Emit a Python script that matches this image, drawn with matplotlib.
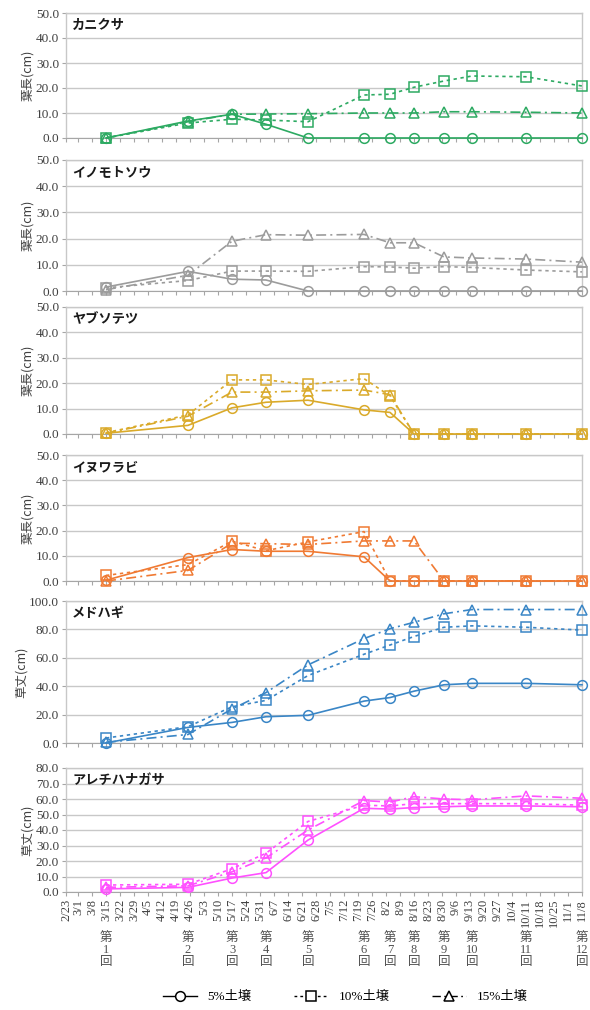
import matplotlib
matplotlib.use('Agg')
import matplotlib.pyplot as plt
import matplotlib.transforms as mtransforms
from matplotlib.ticker import FormatStrFormatter
from matplotlib.lines import Line2D
import pandas as pd

plt.rcParams['font.family'] = ['Liberation Serif', 'Noto Sans CJK JP', 'DejaVu Sans']

YEAR = 2015
# measurement dates (第1回 ... 第12回)
survey_dates = ["3/15", "4/25", "5/17", "6/3", "6/24", "7/22", "8/4", "8/16",
                "8/31", "9/14", "10/11", "11/8"]
round_labels = ["第\n1\n回", "第\n2\n回", "第\n3\n回", "第\n4\n回", "第\n5\n回", "第\n6\n回",
                "第\n7\n回", "第\n8\n回", "第\n9\n回", "第\n10\n回", "第\n11\n回", "第\n12\n回"]
tick_labels = ["2/23", "3/1", "3/8", "3/15", "3/22", "3/29", "4/5", "4/12", "4/19", "4/26",
               "5/3", "5/10", "5/17", "5/24", "5/31", "6/7", "6/14", "6/21", "6/28", "7/5",
               "7/12", "7/19", "7/26", "8/2", "8/9", "8/16", "8/23", "8/30", "9/6", "9/13",
               "9/20", "9/27", "10/4", "10/11", "10/18", "10/25", "11/1", "11/8"]
series_names = ["5%土壌", "10%土壌", "15%土壌"]

species = ["カニクサ", "イノモトソウ", "ヤブソテツ", "イヌワラビ", "メドハギ", "アレチハナガサ"]
ylabels = ["葉長(cm)", "葉長(cm)", "葉長(cm)", "葉長(cm)", "草丈(cm)", "草丈(cm)"]
ymax = [50, 50, 50, 50, 100, 80]
ystep = [10, 10, 10, 10, 20, 10]
colors = ["#2DAA62", "#9C9C9C", "#DAAA2A", "#F07A33", "#3A86C6", "#FF50FF"]

kanikusa_5 = [0, 6.8, 9.5, 5.5, 0, 0, 0, 0, 0, 0, 0, 0]
kanikusa_10 = [0, 6.0, 7.5, 7.2, 6.5, 17.2, 17.5, 20.3, 22.8, 24.8, 24.5, 20.8]
kanikusa_15 = [0, 6.5, 9.5, 9.6, 9.7, 10.0, 10.0, 10.0, 10.5, 10.5, 10.3, 10.0]

inomoto_5 = [1.5, 7.5, 4.5, 4.2, 0, 0, 0, 0, 0, 0, 0, 0]
inomoto_10 = [1.2, 4.0, 7.6, 7.6, 7.5, 9.3, 9.2, 8.7, 9.3, 9.0, 8.0, 7.3]
inomoto_15 = [0.5, 6.0, 19.0, 21.5, 21.3, 21.6, 18.4, 18.4, 13.0, 12.6, 12.2, 11.0]

yabusotetsu_5 = [0.3, 3.4, 10.3, 12.5, 13.3, 9.5, 8.5, 0, 0, 0, 0, 0]
yabusotetsu_10 = [0.5, 7.5, 21.3, 21.3, 19.5, 21.8, 15.0, 0, 0, 0, 0, 0]
yabusotetsu_15 = [0.3, 7.0, 16.5, 16.5, 17.0, 17.3, 15.5, 0, 0, 0, 0, 0]

inuwarabi_5 = [0.3, 9.3, 12.5, 11.8, 11.8, 9.6, 0, 0, 0, 0, 0, 0]
inuwarabi_10 = [2.2, 6.5, 15.8, 12.0, 15.5, 19.6, 0, 0, 0, 0, 0, 0]
inuwarabi_15 = [0, 4.2, 15.0, 14.8, 14.5, 15.9, 15.9, 15.9, 0, 0, 0, 0]

medohagi_5 = [0, 11.0, 14.5, 18.5, 19.5, 29.5, 32.0, 36.5, 41.0, 42.0, 42.0, 41.0]
medohagi_10 = [3.5, 11.5, 25.5, 30.0, 47.5, 62.5, 69.0, 75.0, 81.5, 82.5, 81.5, 79.5]
medohagi_15 = [0.5, 6.0, 24.0, 35.5, 55.0, 73.5, 80.5, 85.0, 91.0, 94.0, 94.0, 94.0]

arechi_5 = [2.0, 3.0, 9.0, 12.5, 33.5, 54.0, 53.5, 54.5, 55.0, 55.5, 55.5, 55.0]
arechi_10 = [4.5, 5.0, 15.0, 25.0, 45.5, 56.0, 55.5, 57.0, 57.0, 57.0, 57.0, 56.0]
arechi_15 = [3.0, 4.0, 13.0, 22.0, 40.0, 59.0, 58.0, 61.5, 60.0, 59.5, 62.0, 60.5]

data = [
    (kanikusa_5, kanikusa_10, kanikusa_15),
    (inomoto_5, inomoto_10, inomoto_15),
    (yabusotetsu_5, yabusotetsu_10, yabusotetsu_15),
    (inuwarabi_5, inuwarabi_10, inuwarabi_15),
    (medohagi_5, medohagi_10, medohagi_15),
    (arechi_5, arechi_10, arechi_15),
]

def to_dates(lst):
    return pd.to_datetime([f"{YEAR}/{d}" for d in lst], format="%Y/%m/%d")

x_dates = to_dates(survey_dates)
tick_dates = to_dates(tick_labels)

# panel pixel extents (top, bottom)
W, H = 590, 1010
panel_px = [(13, 138), (160, 291), (307, 434), (455, 581), (601, 743), (768, 892)]
left_px, right_px = 66, 582

styles = [
    dict(linestyle='-', marker='o'),
    dict(linestyle=(0, (2, 2.2)), marker='s'),
    dict(linestyle=(0, (6, 2.5, 1.2, 2.5)), marker='^'),
]

fig = plt.figure(figsize=(W / 100, H / 100), dpi=100)
grid_c = '#C8C8C8'
text_c = '#404040'

for i, (top, bot) in enumerate(panel_px):
    ax = fig.add_axes([left_px / W, 1 - bot / H, (right_px - left_px) / W, (bot - top) / H])
    for j, vals in enumerate(data[i]):
        ax.plot(x_dates, vals, color=colors[i], lw=1.2, markersize=7,
                markerfacecolor='none', markeredgewidth=1.1, clip_on=False,
                zorder=3, **styles[j])
    ax.set_xlim(tick_dates[0], tick_dates[-1])
    ax.set_ylim(0, ymax[i])
    ax.set_yticks(range(0, ymax[i] + 1, ystep[i]))
    ax.yaxis.set_major_formatter(FormatStrFormatter('%.1f'))
    ax.grid(axis='y', color=grid_c, lw=1.0)
    ax.set_axisbelow(True)
    for s in ['top', 'right', 'left']:
        ax.spines[s].set_color(grid_c)
        ax.spines[s].set_linewidth(1.0)
    ax.spines['bottom'].set_color('#A6A6A6')
    ax.set_xticks(tick_dates)
    ax.tick_params(axis='x', length=3, color='#A6A6A6', direction='out')
    ax.tick_params(axis='y', length=3, color='#A6A6A6', labelsize=9.5, labelcolor=text_c, pad=2)
    ax.set_ylabel(ylabels[i], fontsize=9, color=text_c, family=['Noto Sans CJK JP'], labelpad=1)
    ax.text(0.012, 1 - 12 / (bot - top), species[i], transform=ax.transAxes,
            fontsize=9.5, fontweight='bold', va='center', ha='left',
            family=['Noto Sans CJK JP'], color='#1a1a1a')
    if i < len(panel_px) - 1:
        ax.set_xticklabels([])
    else:
        ax.set_xticklabels(tick_labels, rotation=90, fontsize=9, color=text_c)
        ax.tick_params(axis='x', pad=2)
        trans = mtransforms.blended_transform_factory(ax.transData, ax.transAxes)
        for d, lab in zip(x_dates, round_labels):
            ax.text(d, -(932 - bot) / (bot - top), lab, transform=trans, ha='center', va='top',
                    fontsize=9, color='#505050', linespacing=1.0,
                    family=['Liberation Serif', 'Noto Sans CJK JP'])

handles = [Line2D([], [], color='black', lw=1.0, markersize=7, markerfacecolor='white',
                  markeredgewidth=1.1, **styles[j]) for j in range(3)]
fig.legend(handles, series_names, loc='center', bbox_to_anchor=(0.585, 1 - 997 / H),
           ncol=3, frameon=False, handlelength=2.6, columnspacing=3.2,
           prop={'family': ['Liberation Serif', 'Noto Sans CJK JP'], 'size': 9.5})

fig.savefig('out.png', dpi=100)
